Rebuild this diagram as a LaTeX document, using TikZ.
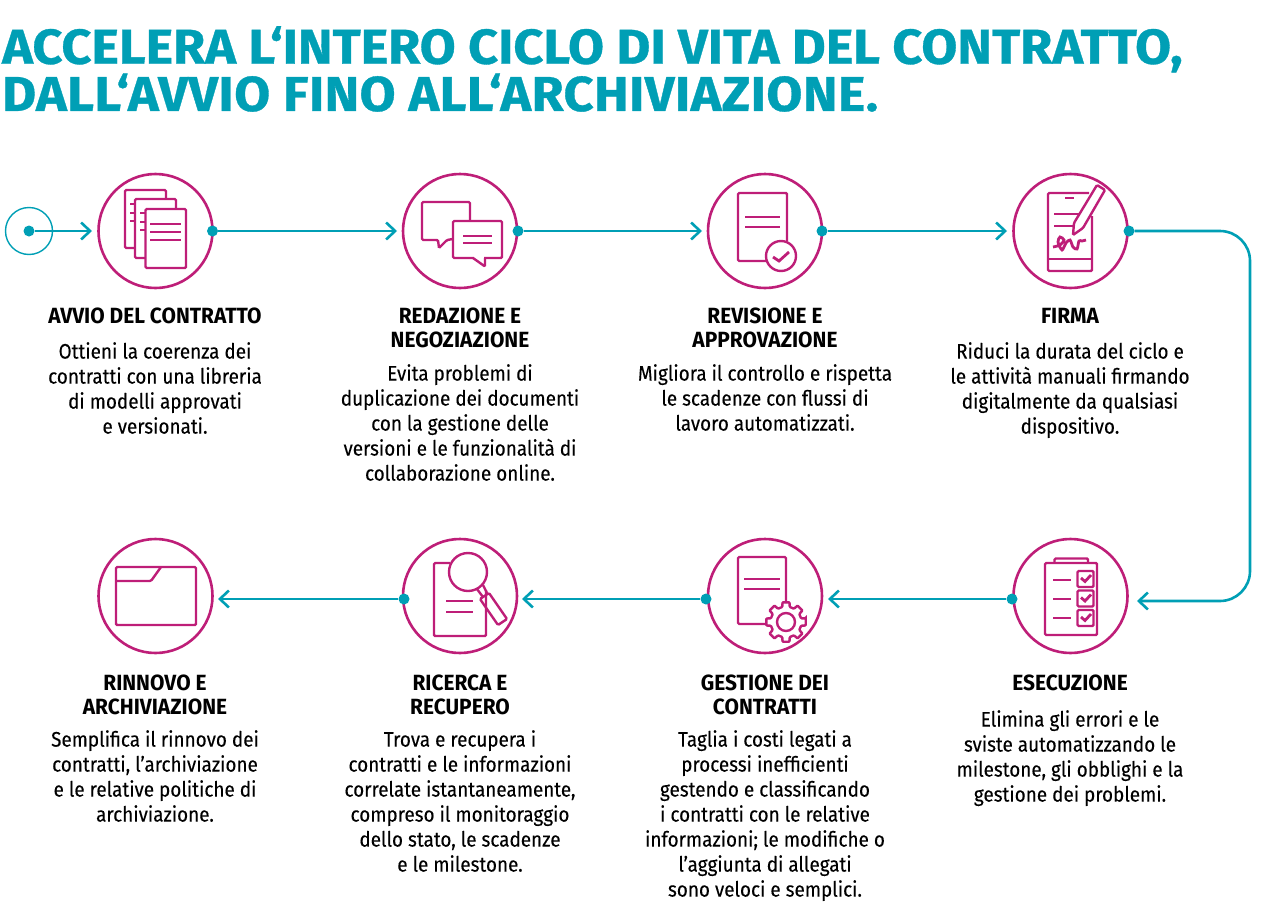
\documentclass[tikz,border=0pt]{standalone}
\usepackage{fontspec}
\setmainfont[FakeStretch=0.9,FakeBold=0.15]{Fira Sans}
\newfontfamily\titlefont[FakeStretch=1.065,BoldFeatures={FakeBold=0.7}]{Fira Sans}
\newfontfamily\headfont[FakeStretch=0.95]{Fira Sans}
\usetikzlibrary{positioning,arrows.meta}
\definecolor{contractteal}{HTML}{009FB5}
\definecolor{contractpink}{HTML}{BE1E78}
\tikzset{
  stage/.style={circle,draw=contractpink,line width=2.6pt,minimum size=114pt,inner sep=0pt},
  dotmark/.style={circle,fill=contractteal,minimum size=11pt,inner sep=0pt},
  flow/.style={draw=contractteal,line width=2.6pt,-{Straight Barb[length=9pt,width=17pt,line width=2.6pt]}},
  heading/.style={align=center,inner sep=0pt,font=\headfont\fontsize{22}{24}\selectfont\bfseries},
  blurb/.style={align=center,inner sep=0pt,font=\fontsize{21}{25}\selectfont},
  icon/.style={draw=contractpink,line width=2.4pt,rounded corners=1.2pt},
  heavy/.style={draw=contractpink,line width=2.8pt}
}
\begin{document}
\begin{tikzpicture}[x=1pt,y=-1pt]
  \useasboundingbox (0,0) rectangle (1280,913);

  % Title
  \node[anchor=west,inner sep=0pt,text=contractteal,align=left,
    font=\titlefont\fontsize{49}{42}\selectfont\bfseries] (title) at (2,69)
    {ACCELERA L‘INTERO CICLO DI VITA DEL CONTRATTO,\\\addfontfeature{LetterSpace=0.85}DALL‘AVVIO FINO ALL‘ARCHIVIAZIONE.};

  % Stages
  \node[stage] (avvio) at (155.5,231) {};
  \node[stage] (redazione) at (460,231) {};
  \node[stage] (revisione) at (765,231) {};
  \node[stage] (firma) at (1070.5,231) {};
  \node[stage] (esecuzione) at (1070.5,596) {};
  \node[stage] (gestione) at (765,596) {};
  \node[stage] (ricerca) at (460,596) {};
  \node[stage] (rinnovo) at (155.5,596) {};

  % Connectors
  \node[circle,draw=contractteal,line width=1.4pt,minimum size=47pt,inner sep=0pt] (start) at (29,231) {};
  \node[dotmark] (dotstart) at (start.center) {};
  \node[dotmark] (dotavvio) at (212.5,231) {};
  \node[dotmark] (dotredazione) at (518,231) {};
  \node[dotmark] (dotrevisione) at (822,231) {};
  \node[dotmark] (dotfirma) at (1129,231) {};
  \node[dotmark] (dotesecuzione) at (1012,599) {};
  \node[dotmark] (dotgestione) at (706,599) {};
  \node[dotmark] (dotricerca) at (404,599) {};
  \coordinate (inavvio) at (92,231);
  \coordinate (inredazione) at (397,231);
  \coordinate (inrevisione) at (702,231);
  \coordinate (infirma) at (1007,231);
  \coordinate (inesecuzione) at (1137,601);
  \coordinate (ingestione) at (828,599);
  \coordinate (inricerca) at (522,599);
  \coordinate (inrinnovo) at (218,599);
  \draw[flow] (dotstart) -- (inavvio);
  \draw[flow] (dotavvio) -- (inredazione);
  \draw[flow] (dotredazione) -- (inrevisione);
  \draw[flow] (dotrevisione) -- (infirma);
  \draw[flow,rounded corners=30pt] (dotfirma) -- (1250,231) -- (1250,601) -- (inesecuzione);
  \draw[flow] (dotesecuzione) -- (ingestione);
  \draw[flow] (dotgestione) -- (inricerca);
  \draw[flow] (dotricerca) -- (inrinnovo);

  % Texts
  \node[heading,anchor=north] (headavvio) at (155,308) {AVVIO DEL CONTRATTO};
  \node[blurb,anchor=north] (textavvio) at (155,342) {Ottieni la coerenza dei\\contratti con una libreria\\di modelli approvati\\e versionati.};
  \node[heading,anchor=north] (headredazione) at (460,308) {REDAZIONE E\\NEGOZIAZIONE};
  \node[blurb,anchor=north] (textredazione) at (460,364) {Evita problemi di\\duplicazione dei documenti\\con la gestione delle\\versioni e le funzionalità di\\collaborazione online.};
  \node[heading,anchor=north] (headrevisione) at (765,308) {REVISIONE E\\APPROVAZIONE};
  \node[blurb,anchor=north] (textrevisione) at (765,364) {Migliora il controllo e rispetta\\le scadenze con flussi di\\lavoro automatizzati.};
  \node[heading,anchor=north] (headfirma) at (1070,308) {FIRMA};
  \node[blurb,anchor=north] (textfirma) at (1070,342) {Riduci la durata del ciclo e\\le attività manuali firmando\\digitalmente da qualsiasi\\dispositivo.};
  \node[heading,anchor=north] (headrinnovo) at (155,675) {RINNOVO E\\ARCHIVIAZIONE};
  \node[blurb,anchor=north] (textrinnovo) at (155,730) {Semplifica il rinnovo dei\\contratti, l’archiviazione\\e le relative politiche di\\archiviazione.};
  \node[heading,anchor=north] (headricerca) at (460,675) {RICERCA E\\RECUPERO};
  \node[blurb,anchor=north] (textricerca) at (460,730) {Trova e recupera i\\contratti e le informazioni\\correlate istantaneamente,\\compreso il monitoraggio\\dello stato, le scadenze\\e le milestone.};
  \node[heading,anchor=north] (headgestione) at (765,675) {GESTIONE DEI\\CONTRATTI};
  \node[blurb,anchor=north] (textgestione) at (765,730) {Taglia i costi legati a\\processi inefficienti\\gestendo e classificando\\i contratti con le relative\\informazioni; le modifiche o\\l’aggiunta di allegati\\sono veloci e semplici.};
  \node[heading,anchor=north] (headesecuzione) at (1070,675) {ESECUZIONE};
  \node[blurb,anchor=north] (textesecuzione) at (1070,710) {Elimina gli errori e le\\sviste automatizzando le\\milestone, gli obblighi e la\\gestione dei problemi.};

  % Icon: stacked sheets
  \draw[icon] (135,248) -- (125,248) -- (125,190) -- (166,190) -- (166,199);
  \draw[icon] (145,258) -- (135,258) -- (135,199) -- (176,199) -- (176,209);
  \draw[icon] (145.5,209) rectangle (186,268);
  \foreach \y in {224,232,240} \draw[heavy] (150,\y) -- (181,\y);
  \foreach \y in {204,213,221} \draw[icon] (130,\y) -- (135,\y);
  \foreach \y in {213,222,230} \draw[icon] (140,\y) -- (145.5,\y);

  % Icon: speech bubbles
  \draw[icon] (470,221) -- (470,202) -- (422,202) -- (422,240) -- (438,240) -- (439,248) -- (447,240) -- (453,239);
  \draw[icon] (453,221) rectangle (502,258);
  \fill[white] (474,256) rectangle (484,260);
  \draw[icon] (473,258) -- (485,266.5) -- (485,258);
  \foreach \y in {236,243} \draw[heavy] (463,\y) -- (492,\y);

  % Icon: approved document
  \draw[icon] (787,241) -- (787,193) -- (738,193) -- (738,261) -- (766,261);
  \draw[icon] (781,256) circle (15);
  \draw[heavy] (773,257) -- (779,261) -- (789,252);
  \foreach \y in {217,227} \draw[heavy] (745,\y) -- (780,\y);

  % Icon: phone and pen
  \draw[icon] (1089,193) -- (1048,193) -- (1048,271) -- (1092,271) -- (1092,216);
  \draw[icon] (1048,259) -- (1092,259);
  \draw[heavy] (1065,198) -- (1074,198);
  \draw[icon] (1054,214) -- (1080,214);
  \draw[icon] (1054,226) -- (1073,226);
  \draw[icon,fill=white] (1097,185) -- (1074,223) -- (1073,235) -- (1083,228) -- (1105,190) -- cycle;
  \draw[heavy] plot[smooth] coordinates {(1053,247) (1060,245) (1064,240) (1060,237) (1058,242) (1062,250) (1066,243) (1070,240) (1073,247) (1077,249) (1079,241) (1082,241) (1086,240)};

  % Icon: folder
  \draw[icon] (116,567) rectangle (196,625);
  \draw[icon] (116,581) -- (151,581) -- (161,567);

  % Icon: document under lens
  \draw[icon] (450,563) -- (434,563) -- (434,636) -- (486,636) -- (486,590);
  \draw[icon] (468,572) circle (19);
  \draw[icon] (480,599) -- (489,593) -- (507,619) -- (498,625) -- cycle;
  \draw[icon] (477,589) -- (483,597);
  \draw[icon] (483,585) -- (487,593);
  \foreach \y in {601,612} \draw[heavy] (446,\y) -- (473,\y);

  % Icon: document with gear
  \draw[icon] (786,603) -- (786,557) -- (738,557) -- (738,624) -- (766,624);
  \foreach \y in {579,589} \draw[heavy] (744,\y) -- (780,\y);
  \begin{scope}[shift={(786,622)}]
    \draw[icon] (0,0) circle (9);
    \draw[icon,rounded corners=0.8pt] (-10:20) \foreach \a in {0,45,...,315} { -- (\a-10:20) -- (\a+10:20) -- (\a+14:15.5) -- (\a+31:15.5)} -- cycle;
  \end{scope}

  % Icon: checklist
  \draw[icon] (1045,563) rectangle (1097,635);
  \draw[icon] (1054.5,563) -- (1054.5,558.5) -- (1088,558.5) -- (1088,563);
  \foreach \y in {580,599,618} \draw[heavy] (1053,\y) -- (1071,\y);
  \foreach \y in {579,598.5,618} {
    \draw[icon] (1077.5,\y-8) rectangle (1093.5,\y+8);
    \draw[heavy] (1081,\y-1) -- (1085,\y+2.5) -- (1091,\y-4);
  }
\end{tikzpicture}
\end{document}
